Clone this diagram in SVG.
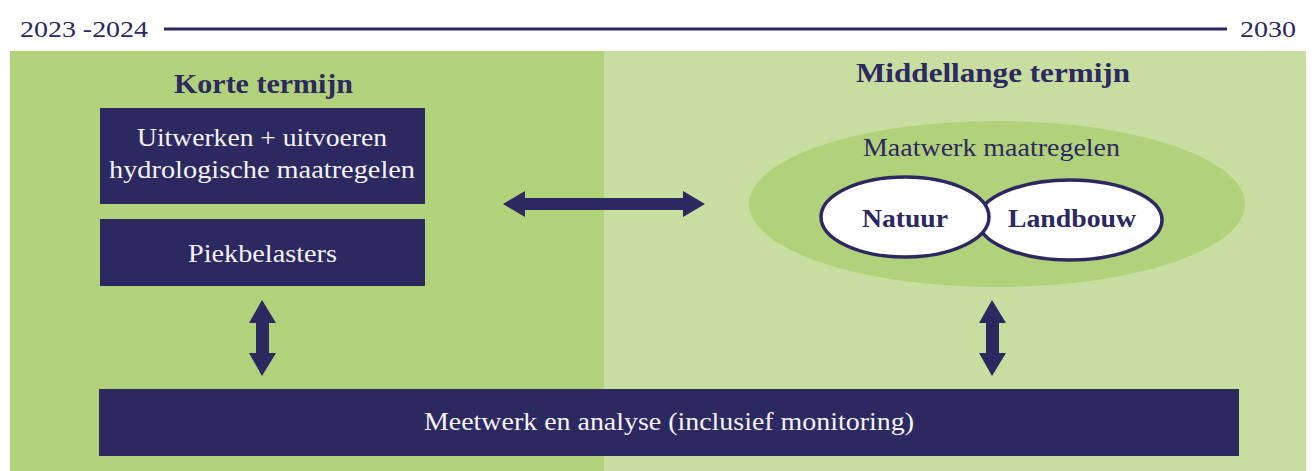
<svg xmlns="http://www.w3.org/2000/svg" width="1316" height="471" viewBox="0 0 1316 471">
<style>
.t{font-family:"Liberation Serif","DejaVu Serif",serif;}
.box{fill:#2c2860;}
.h{font-weight:bold;font-size:28px;fill:#2c2860;}
.bt{font-size:26px;fill:#f4f3f8;}
.yr{font-size:24px;fill:#2c2860;}
.arrow{fill:#2c2860;}
.lbl{font-size:26px;font-weight:bold;fill:#2c2860;}
</style>
<rect x="0" y="0" width="1316" height="471" fill="#ffffff"/>
<g id="timeline">
<text class="t yr" x="20" y="37" textLength="128" lengthAdjust="spacingAndGlyphs">2023 -2024</text>
<line x1="164" y1="29" x2="1227" y2="29" stroke="#2c2860" stroke-width="3"/>
<text class="t yr" x="1240" y="37" textLength="56" lengthAdjust="spacingAndGlyphs">2030</text>
</g>
<g id="panel-korte">
<rect x="10" y="51" width="594" height="420" fill="#b1d17a"/>
<text class="t h" x="174" y="93" textLength="179" lengthAdjust="spacingAndGlyphs">Korte termijn</text>
</g>
<g id="panel-middellange">
<rect x="604" y="51" width="702" height="420" fill="#c8dea0"/>
<text class="t h" x="856" y="82" textLength="274" lengthAdjust="spacingAndGlyphs">Middellange termijn</text>
</g>
<g id="node-uitwerken">
<rect class="box" x="100" y="108" width="325" height="96"/>
<text class="t bt" x="137" y="146" textLength="250" lengthAdjust="spacingAndGlyphs">Uitwerken + uitvoeren</text>
<text class="t bt" x="109" y="178" textLength="306" lengthAdjust="spacingAndGlyphs">hydrologische maatregelen</text>
</g>
<g id="node-piekbelasters">
<rect class="box" x="100" y="219" width="325" height="67"/>
<text class="t bt" x="188" y="262" textLength="149" lengthAdjust="spacingAndGlyphs">Piekbelasters</text>
</g>
<g id="node-maatwerk">
<ellipse cx="997" cy="204" rx="248" ry="83" fill="#b1d17a"/>
<text class="t bt" x="863" y="156" textLength="257" lengthAdjust="spacingAndGlyphs" style="fill:#2c2860">Maatwerk maatregelen</text>
</g>
<g id="node-landbouw">
<ellipse cx="1070" cy="220" rx="92" ry="40" fill="#ffffff" stroke="#2c2860" stroke-width="3.5"/>
<text class="t lbl" x="1008" y="227" textLength="128" lengthAdjust="spacingAndGlyphs">Landbouw</text>
</g>
<g id="node-natuur">
<ellipse cx="905" cy="217" rx="84" ry="40" fill="#ffffff" stroke="#2c2860" stroke-width="3.5"/>
<text class="t lbl" x="862" y="227" textLength="86" lengthAdjust="spacingAndGlyphs">Natuur</text>
</g>
<g id="node-meetwerk">
<rect class="box" x="99" y="389" width="1140" height="67"/>
<text class="t bt" x="424" y="430" textLength="490" lengthAdjust="spacingAndGlyphs">Meetwerk en analyse (inclusief monitoring)</text>
</g>
<g id="connectors">
<polygon class="arrow" points="503,204 525,191 525,198 683,198 683,191 705,204 683,217 683,210 525,210 525,217"/>
<polygon class="arrow" points="262,300 276,323 269,323 269,353 276,353 262,376 249,353 256,353 256,323 249,323"/>
<polygon class="arrow" points="992,300 1006,323 999,323 999,353 1006,353 992,376 979,353 986,353 986,323 979,323"/>
</g>
</svg>
